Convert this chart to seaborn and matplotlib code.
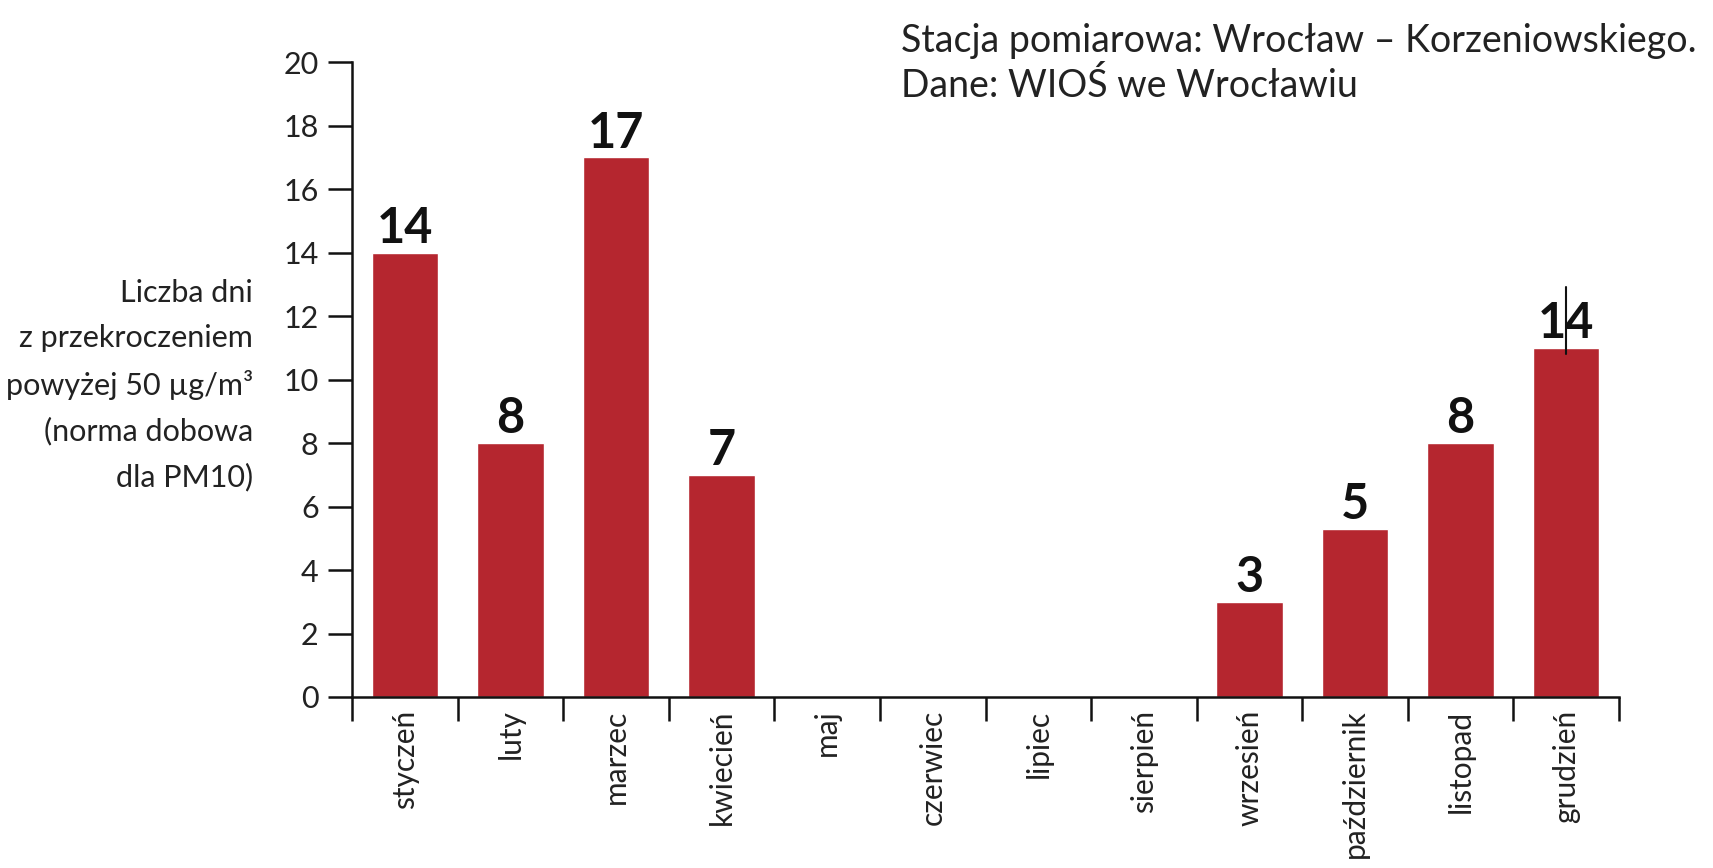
import numpy as np
import pandas as pd
import matplotlib
matplotlib.use("Agg")
import matplotlib.pyplot as plt
import seaborn as sns

months = ["styczeń", "luty", "marzec", "kwiecień", "maj", "czerwiec",
          "lipiec", "sierpień", "wrzesień", "październik", "listopad", "grudzień"]
bar_values = [14, 8, 17, 7, 0, 0, 0, 0, 3, 5.3, 8, 11]
bar_labels = ["14", "8", "17", "7", "", "", "", "", "3", "5", "8", "14"]
y_ticks = [0, 2, 4, 6, 8, 10, 12, 14, 16, 18, 20]
ylabel_lines = ["Liczba dni", "z przekroczeniem", "powyżej 50 µg/m³",
                "(norma dobowa", "dla PM10)"]
title_lines = ["Stacja pomiarowa: Wrocław – Korzeniowskiego.",
               "Dane: WIOŚ we Wrocławiu"]
# stray vertical mark crossing the December label (category index, y from, y to)
stray_mark = (11, 10.8, 12.9)

sns.set_theme(style="white")
plt.rcParams['font.family'] = ['Lato', 'DejaVu Sans']

df = pd.DataFrame({"month": months, "value": bar_values})

fig = plt.figure(figsize=(17.13, 8.68), dpi=100)
ax = fig.add_axes([352/1713, 1-697/868, (1619-352)/1713, (697-62)/868])

sns.barplot(data=df, x="month", y="value", color="#B5262F", saturation=1,
            width=0.63, ax=ax, order=months)

ax.set_xlim(-0.5, 11.5)
ax.set_ylim(0, 20)
ax.set_xlabel("")
ax.set_ylabel("")

for i, (v, lab) in enumerate(zip(bar_values, bar_labels)):
    if lab:
        ax.text(i, v + 0.05, lab, ha="center", va="bottom", fontsize=35,
                fontweight="bold", color="#111111")

ax.plot([stray_mark[0], stray_mark[0]], [stray_mark[1], stray_mark[2]],
        color="#111111", lw=1.5)

for s in ["top", "right"]:
    ax.spines[s].set_visible(False)
for s in ["left", "bottom"]:
    ax.spines[s].set_color("#111111")
    ax.spines[s].set_linewidth(1.8)

ax.set_yticks(y_ticks)
ax.set_yticklabels([str(t) for t in y_ticks])
ax.tick_params(axis="y", which="major", direction="out", length=17, width=1.8,
               color="#111111", labelsize=22, labelcolor="#222222", pad=7, left=True)

ax.set_xticks(np.arange(len(months)))
ax.set_xticklabels(months, rotation=90, fontsize=21.5, color="#222222", va="top")
ax.tick_params(axis="x", which="major", length=0, pad=9)
ax.set_xticks(np.arange(-0.5, len(months), 1), minor=True)
ax.tick_params(axis="x", which="minor", direction="out", length=17, width=1.8,
               color="#111111", bottom=True)

fig.text(253/1713, 1-385/868, "\n".join(ylabel_lines), ha="right", va="center",
         fontsize=22, color="#222222", linespacing=1.72, multialignment="right")

fig.text(901/1713, 1-41/868, title_lines[0], ha="left", va="center",
         fontsize=27, color="#222222")
fig.text(901/1713, 1-86/868, title_lines[1], ha="left", va="center",
         fontsize=27, color="#222222")

fig.savefig("out.png", dpi=100)
